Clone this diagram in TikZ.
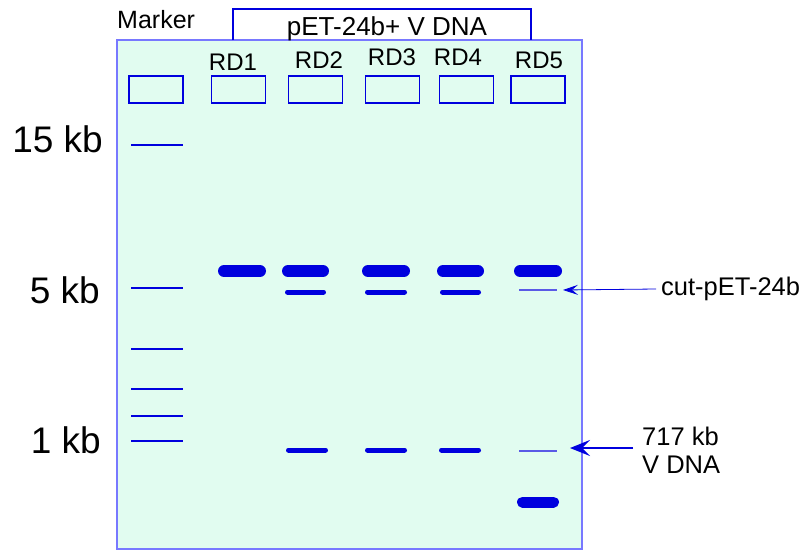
\documentclass[tikz,border=0pt]{standalone}
\usepackage{fontspec}
\setmainfont{Liberation Sans}
\usetikzlibrary{arrows.meta}
\definecolor{gelgreen}{RGB}{225,252,240}
\definecolor{gelblue}{RGB}{120,120,255}
\definecolor{bandblue}{RGB}{0,0,222}
\definecolor{faintblue}{RGB}{90,90,230}
\tikzset{
  well/.style={draw=bandblue,line width=1.3pt,minimum width=54pt,minimum height=27pt,inner sep=0pt},
  thickband/.style={bandblue,line width=12pt,line cap=round},
  midband/.style={bandblue,line width=5pt,line cap=round},
  faintband/.style={faintblue,line width=1.2pt},
  mline/.style={bandblue,line width=2pt},
  lanelabel/.style={font=\fontsize{24}{28}\selectfont,inner sep=0pt,anchor=base},
  sizelabel/.style={font=\fontsize{37}{40}\selectfont,inner sep=0pt,anchor=base east},
  sidelabel/.style={font=\fontsize{25.5}{28}\selectfont,inner sep=0pt,align=left}
}
\begin{document}
\begin{tikzpicture}[x=1pt,y=-1pt]
\useasboundingbox (0,0) rectangle (807,550);
% gel
\draw[gelblue,fill=gelgreen,line width=1.5pt] (117,40) rectangle (582,549);
\draw[bandblue,line width=1.1pt] (233,40) -- (233,9) -- (531,9) -- (531,40);
\node[lanelabel,font=\fontsize{25}{28}\selectfont,anchor=base west] (marker) at (117,28) {Marker};
\node[lanelabel,font=\fontsize{26}{28}\selectfont] (pet) at (387,35) {pET-24b+ V DNA};
% wells
\foreach \name/\x in {m/156,rd1/238.5,rd2/315.5,rd3/392.5,rd4/466.5,rd5/538}
  \node[well] (w\name) at (\x,89.5) {};
\node[lanelabel] (l1) at (233,70) {RD1};
\node[lanelabel] (l2) at (319,68) {RD2};
\node[lanelabel] (l3) at (392,65) {RD3};
\node[lanelabel] (l4) at (458,65) {RD4};
\node[lanelabel] (l5) at (539,68) {RD5};
% marker ladder
\foreach \y in {145,288,349,389,416,441}
  \draw[mline] (131,\y) -- (183,\y);
\node[sizelabel] (s15) at (103,152) {15 kb};
\node[sizelabel] (s5) at (100,303) {5 kb};
\node[sizelabel] (s1) at (101,453) {1 kb};
% bands
\draw[thickband] (224,271) -- (260,271);
\draw[thickband] (288,271) -- (323,271);
\draw[thickband] (368,271) -- (404,271);
\draw[thickband] (443,271) -- (478,271);
\draw[thickband] (520,271) -- (556,271);
\draw[midband] (287.5,292) -- (323.5,292);
\draw[midband] (367.5,292) -- (404.5,292);
\draw[midband] (442.5,292) -- (478.5,292);
\draw[midband] (288.5,450) -- (325.5,450);
\draw[midband] (367.5,450) -- (404.5,450);
\draw[midband] (441.5,450) -- (478.5,450);
\draw[thickband,line width=11pt] (522.5,502) -- (553.5,502);
\draw[faintband] (519,290) -- (557,290);
\draw[faintband] (519,451) -- (557,451);
% annotations
\node[sidelabel,anchor=west] (cut) at (661,289) {cut-pET-24b};
\coordinate (cuttip) at (563,290);
\draw[bandblue,line width=0.8pt,-{Stealth[length=15pt,width=10pt,inset=6pt]}] ([xshift=-5pt]cut.west) -- (cuttip);
\node[sidelabel,anchor=north west] (vdna) at (642,427) {717 kb\\V DNA};
\coordinate (vtip) at (570,448);
\coordinate (vtail) at (633,448);
\draw[bandblue,line width=1.6pt,-{Stealth[length=20pt,width=16pt,inset=8pt]}] (vtail) -- (vtip);
\end{tikzpicture}
\end{document}
